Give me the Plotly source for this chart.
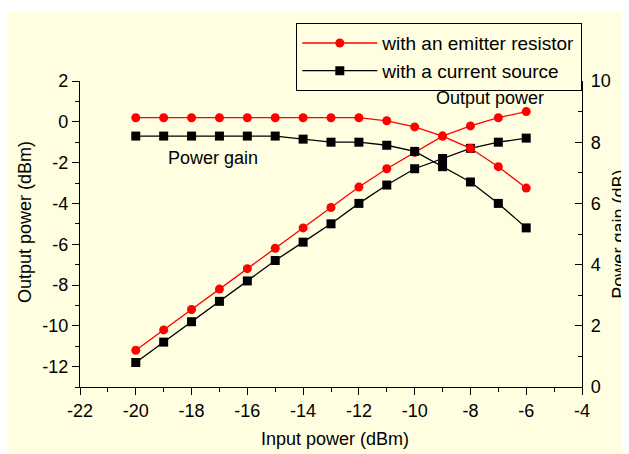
import plotly.graph_objects as go

# ---- data ----
input_power = [-20, -19, -18, -17, -16, -15, -14, -13, -12, -11, -10, -9, -8, -7, -6]

# Output power (dBm), left axis
out_emitter = [-11.2, -10.2, -9.2, -8.2, -7.2, -6.2, -5.2, -4.2, -3.2, -2.3, -1.5, -0.7, -0.2, 0.2, 0.5]
out_current = [-11.8, -10.8, -9.8, -8.8, -7.8, -6.8, -5.9, -5.0, -4.0, -3.1, -2.3, -1.8, -1.3, -1.0, -0.8]

# Power gain (dB), right axis
gain_emitter = [8.8, 8.8, 8.8, 8.8, 8.8, 8.8, 8.8, 8.8, 8.8, 8.7, 8.5, 8.2, 7.8, 7.2, 6.5]
gain_current = [8.2, 8.2, 8.2, 8.2, 8.2, 8.2, 8.1, 8.0, 8.0, 7.9, 7.7, 7.2, 6.7, 6.0, 5.2]

series_names = ["with an emitter resistor", "with a current source"]
x_ticks = [-22, -20, -18, -16, -14, -12, -10, -8, -6, -4]
y_left_ticks = [-12, -10, -8, -6, -4, -2, 0, 2]
y_right_ticks = [0, 2, 4, 6, 8, 10]

FONT = "Arial, Liberation Sans, sans-serif"
FS = 18
RED = "#FF0000"
BLACK = "#000000"
CREAM = "#FFFEE1"

fig = go.Figure()

fig.add_trace(go.Scatter(x=input_power, y=out_emitter, mode="lines+markers",
                         name=series_names[0], legendgroup="e",
                         line=dict(color=RED, width=1.3),
                         marker=dict(symbol="circle", size=9, color=RED)))
fig.add_trace(go.Scatter(x=input_power, y=out_current, mode="lines+markers",
                         name=series_names[1], legendgroup="c",
                         line=dict(color=BLACK, width=1.3),
                         marker=dict(symbol="square", size=9, color=BLACK)))
fig.add_trace(go.Scatter(x=input_power, y=gain_emitter, mode="lines+markers",
                         name=series_names[0], legendgroup="e", showlegend=False,
                         yaxis="y2",
                         line=dict(color=RED, width=1.3),
                         marker=dict(symbol="circle", size=9, color=RED)))
fig.add_trace(go.Scatter(x=input_power, y=gain_current, mode="lines+markers",
                         name=series_names[1], legendgroup="c", showlegend=False,
                         yaxis="y2",
                         line=dict(color=BLACK, width=1.3),
                         marker=dict(symbol="square", size=9, color=BLACK)))

def hy(vals):
    return [str(v).replace("\u2212", "-") for v in vals]

axis_common = dict(showline=True, linecolor=BLACK, linewidth=1.3, showgrid=False,
                   zeroline=False, ticks="outside", ticklen=7, tickwidth=1.3,
                   tickcolor=BLACK, tickfont=dict(family=FONT, size=FS, color=BLACK))

# page has an 8px body margin, so the figure is sized 8px smaller
fig.update_layout(
    width=621, height=446,
    margin=dict(l=72, r=47, t=73, b=67),
    paper_bgcolor="white",
    plot_bgcolor="rgba(0,0,0,0)",
    font=dict(family=FONT, size=FS, color=BLACK),
    xaxis=dict(range=[-22, -4], tickvals=x_ticks, ticktext=hy(x_ticks),
               minor=dict(dtick=1, ticks="outside", ticklen=4, tickcolor=BLACK, tickwidth=1.3),
               **axis_common),
    yaxis=dict(range=[-13, 2], tickvals=y_left_ticks, ticktext=hy(y_left_ticks),
               minor=dict(dtick=1, ticks="outside", ticklen=4, tickcolor=BLACK, tickwidth=1.3),
               **axis_common),
    yaxis2=dict(range=[0, 10], tickvals=y_right_ticks, ticktext=hy(y_right_ticks),
                overlaying="y", side="right",
                showline=True, linecolor=BLACK, linewidth=1.3, showgrid=False,
                zeroline=False, ticks="inside", ticklen=7, tickwidth=1.3, tickcolor=BLACK,
                ticklabelstandoff=4,
                tickfont=dict(family=FONT, size=FS, color=BLACK),
                minor=dict(dtick=1, ticks="inside", ticklen=4, tickcolor=BLACK, tickwidth=1.3)),
    legend=dict(x=1, xanchor="right", y=1.19, yanchor="top",
                bgcolor="rgba(0,0,0,0)", bordercolor=BLACK, borderwidth=1.3,
                font=dict(family=FONT, size=19, color=BLACK),
                itemwidth=75, tracegroupgap=0),
    showlegend=True,
    shapes=[dict(type="rect", xref="paper", yref="paper",
                 x0=-0.3, x1=1.3, y0=-0.4, y1=1.2255,
                 fillcolor=CREAM, line=dict(width=0), layer="below")],
    annotations=[
        dict(text="Output power (dBm)", xref="paper", yref="paper", x=-0.1096, y=0.539,
             textangle=-90, showarrow=False, xanchor="center", yanchor="middle"),
        dict(text="Power gain (dB)", xref="paper", yref="paper", x=1.073, y=0.5,
             textangle=-90, showarrow=False, xanchor="center", yanchor="middle"),
        dict(text="Input power (dBm)", xref="paper", yref="paper", x=0.508, y=-0.170,
             showarrow=False, xanchor="center", yanchor="middle"),
        dict(text="Output power", x=-7.3, y=1.17, xref="x", yref="y",
             showarrow=False, xanchor="center", yanchor="middle"),
        dict(text="Power gain", x=-17.23, y=-1.76, xref="x", yref="y",
             showarrow=False, xanchor="center", yanchor="middle"),
    ],
)

fig.write_html("out.html")
